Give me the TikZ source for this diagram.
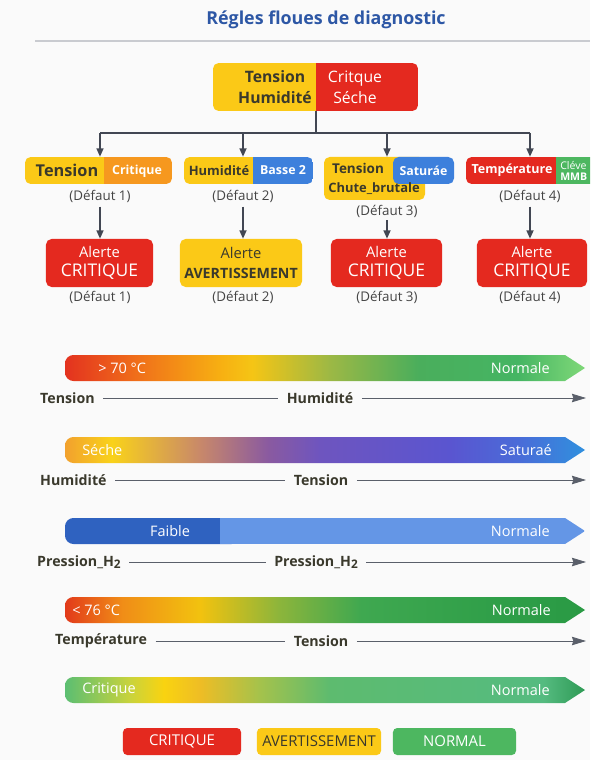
\documentclass[tikz,border=0pt]{standalone}
\usepackage{fontspec}
\setmainfont{Open Sans}
\usetikzlibrary{arrows.meta}

\definecolor{pagebg}{HTML}{FAFAFA}
\definecolor{titleblue}{HTML}{2D57A5}
\definecolor{rulegray}{HTML}{C9CBD0}
\definecolor{critred}{HTML}{E4291F}
\definecolor{warnyel}{HTML}{FBC917}
\definecolor{okgreen}{HTML}{4DB760}
\definecolor{hotorange}{HTML}{F6981F}
\definecolor{skyblue}{HTML}{3D80DC}
\definecolor{inkdark}{HTML}{3A392C}
\definecolor{wiregray}{HTML}{424753}
\definecolor{notegray}{HTML}{444444}
\definecolor{linegray}{HTML}{5A5F6A}
\definecolor{deepblue}{HTML}{2F62C0}
\definecolor{paleblue}{HTML}{6496E6}

% colour stops of the scales
\definecolor{sa0}{HTML}{E3321F}\definecolor{sa1}{HTML}{F0701A}
\definecolor{sa2}{HTML}{F7B012}\definecolor{sa3}{HTML}{F5C515}
\definecolor{sa4}{HTML}{9CB845}\definecolor{sa5}{HTML}{4AAE5C}
\definecolor{sa6}{HTML}{45B563}\definecolor{sa7}{HTML}{7FD878}
\definecolor{sb0}{HTML}{F2A12E}\definecolor{sb1}{HTML}{F9D21A}
\definecolor{sb2}{HTML}{C8886A}\definecolor{sb3}{HTML}{8A5AA0}
\definecolor{sb4}{HTML}{6E55BF}\definecolor{sb5}{HTML}{5A55D0}
\definecolor{sb6}{HTML}{4A6BD8}\definecolor{sb7}{HTML}{3090DE}
\definecolor{sc0}{HTML}{E23A1A}\definecolor{sc1}{HTML}{F08D17}
\definecolor{sc2}{HTML}{F2C20F}\definecolor{sc3}{HTML}{8DB53B}
\definecolor{sc4}{HTML}{3FA850}\definecolor{sc5}{HTML}{2E9E48}
\definecolor{sc6}{HTML}{2A9A44}
\definecolor{sd0}{HTML}{5BBE72}\definecolor{sd1}{HTML}{C9D33C}
\definecolor{sd2}{HTML}{F9D310}\definecolor{sd3}{HTML}{EEBD25}
\definecolor{sd4}{HTML}{A4C24C}\definecolor{sd5}{HTML}{5DBB6F}
\definecolor{sd6}{HTML}{55BB80}\definecolor{sd7}{HTML}{2E9A55}

\pgfdeclarehorizontalshading{tempscale}{100bp}{color(0bp)=(sa0); color(25bp)=(sa0);
  color(32bp)=(sa1); color(40bp)=(sa2); color(43bp)=(sa3); color(50.5bp)=(sa4);
  color(59bp)=(sa5); color(68.5bp)=(sa6); color(75bp)=(sa7); color(100bp)=(sa7)}
\pgfdeclarehorizontalshading{humscale}{100bp}{color(0bp)=(sb0); color(25bp)=(sb0);
  color(29.5bp)=(sb1); color(38bp)=(sb2); color(44.5bp)=(sb3); color(49.5bp)=(sb4);
  color(62bp)=(sb5); color(68.5bp)=(sb6); color(75bp)=(sb7); color(100bp)=(sb7)}
\pgfdeclarehorizontalshading{heatscale}{100bp}{color(0bp)=(sc0); color(25bp)=(sc0);
  color(30.5bp)=(sc1); color(38bp)=(sc2); color(45.5bp)=(sc3); color(53.5bp)=(sc4);
  color(67.5bp)=(sc5); color(75bp)=(sc6); color(100bp)=(sc6)}
\pgfdeclarehorizontalshading{cellscale}{100bp}{color(0bp)=(sd0); color(25bp)=(sd0);
  color(31.25bp)=(sd1); color(34.5bp)=(sd2); color(38bp)=(sd3); color(43.75bp)=(sd4);
  color(50.5bp)=(sd5); color(71bp)=(sd6); color(75bp)=(sd7); color(100bp)=(sd7)}

\tikzset{
  wire/.style={draw=wiregray, line width=1.1pt},
  headed/.style={-{Triangle[length=6pt,width=5pt]}},
  frame/.style={inner sep=0pt, minimum height=0.675cm},
  note/.style={text=notegray, inner sep=0pt, font=\fontsize{9.5}{11}\selectfont},
  darktag/.style={text=inkdark, inner sep=0pt, font=\bfseries\fontsize{9.6}{11}\selectfont},
  lighttag/.style={text=white, inner sep=0pt, font=\bfseries\fontsize{9.3}{11}\selectfont},
  alertbox/.style={rounded corners=4pt, minimum height=1.2cm, align=center,
    text=white, inner sep=0pt, font=\fontsize{10.5}{14}\selectfont},
  barlbl/.style={text=white, inner sep=0pt, font=\fontsize{10.3}{12}\selectfont},
  rowlbl/.style={text=inkdark, inner sep=6pt, font=\bfseries\fontsize{10.1}{12}\selectfont},
  rowline/.style={draw=linegray, line width=0.6pt},
  rowhead/.style={-{Stealth[length=10pt,width=6pt,inset=1pt]}},
  legendbox/.style={rounded corners=3pt, minimum width=2.95cm, minimum height=0.675cm,
    inner sep=0pt, font=\fontsize{10.6}{12}\selectfont},
}

\begin{document}
\begin{tikzpicture}[x=0.025cm, y=-0.025cm]
  \useasboundingbox (0,0) rectangle (590,760);
  \fill[pagebg] (0,0) rectangle (590,760);
  \clip (0,0) rectangle (590,760);

  % title
  \node[text=titleblue, font=\bfseries\fontsize{12.7}{15}\selectfont] (title) at (326,20)
    {Régles floues de diagnostic};
  \draw[rulegray, line width=1.1pt] (35,41) -- (590,41);

  % rule at the top
  \begin{scope}
    \clip[rounded corners=4pt] (213,63) rectangle (418,111);
    \fill[warnyel] (213,63) rectangle (316,111);
    \fill[critred] (316,63) rectangle (418,111);
  \end{scope}
  \node[darktag, align=center, font=\bfseries\fontsize{11.2}{15}\selectfont] (topL) at (275,87)
    {Tension\\Humidité};
  \node[lighttag, align=center, font=\mdseries\fontsize{11.2}{15}\selectfont] (topR) at (355,87)
    {Critque\\Séche};
  \coordinate (foot) at (316,111);
  \coordinate (hub) at (316,133);

  % conditions
  \node[frame, minimum width=3.675cm] (r1) at (98.5,170.5) {};
  \node[frame, minimum width=3.225cm] (r2) at (248.5,170.5) {};
  \node[frame, minimum width=3.25cm] (r3) at (389,170.5) {};
  \node[frame, minimum width=3.1cm] (r4) at (528,170.5) {};
  \begin{scope}
    \clip[rounded corners=4pt] (25,157) rectangle (172,184);
    \fill[warnyel] (25,157) rectangle (104,184);
    \fill[hotorange] (104,157) rectangle (172,184);
  \end{scope}
  \begin{scope}
    \clip[rounded corners=4pt] (184,157) rectangle (313,184);
    \fill[warnyel] (184,157) rectangle (253,184);
    \fill[skyblue] (253,157) rectangle (313,184);
  \end{scope}
  \fill[warnyel, rounded corners=4pt] (324,157) rectangle (425,200);
  \fill[skyblue, rounded corners=4pt] (393,157) rectangle (454,184);
  \begin{scope}
    \clip[rounded corners=4pt] (466,157) rectangle (610,184);
    \fill[critred] (466,157) rectangle (556,184);
    \fill[okgreen] (556,157) rectangle (610,184);
  \end{scope}
  \node[darktag, font=\bfseries\fontsize{11.6}{13}\selectfont] (t1a) at (67,170.5) {Tension};
  \node[lighttag, font=\bfseries\fontsize{8.8}{11}\selectfont] (t1b) at (137,171) {Critique};
  \node[darktag, font=\bfseries\fontsize{9.2}{11}\selectfont] (t2a) at (219,170.5) {Humidité};
  \node[lighttag, font=\bfseries\fontsize{8.8}{11}\selectfont] (t2b) at (283,170.5) {Basse 2};
  \node[darktag] (t3a) at (358,168) {Tension};
  \node[darktag, font=\bfseries\fontsize{9.2}{11}\selectfont] (t3c) at (374,189) {Chute\_brutale};
  \node[lighttag, font=\bfseries\fontsize{8.8}{11}\selectfont] (t3b) at (423.5,170.5) {Saturáe};
  \node[lighttag, font=\bfseries\fontsize{8.9}{11}\selectfont] (t4a) at (512,170.5) {Température};
  \node[lighttag, anchor=west, align=left, font=\fontsize{7.5}{8}\selectfont] (t4b) at (560,171)
    {Cléve\\\textbf{MMB}};

  % alerts
  \node[alertbox, fill=critred, minimum width=2.675cm] (a1) at (99.5,263)
    {Alerte\\{\fontsize{12.4}{14}\selectfont CRITIQUE}};
  \node[alertbox, fill=warnyel, text=inkdark, minimum width=3.05cm] (a2) at (241,263)
    {Alerte\\{\bfseries\fontsize{10.1}{14}\selectfont AVERTISSEMENT}};
  \node[alertbox, fill=critred, minimum width=2.775cm] (a3) at (386.5,263)
    {Alerte\\{\fontsize{12.4}{14}\selectfont CRITIQUE}};
  \node[alertbox, fill=critred, minimum width=2.75cm] (a4) at (532,263)
    {Alerte\\{\fontsize{12.4}{14}\selectfont CRITIQUE}};

  \node[note] (d1) at (100,196) {(Défaut 1)};
  \node[note] (d2) at (243,196) {(Défaut 2)};
  \node[note] (d3) at (387,211) {(Défaut 3)};
  \node[note] (d4) at (530,196) {(Défaut 4)};
  \node[note] (e1) at (100,297) {(Défaut 1)};
  \node[note] (e2) at (243,297) {(Défaut 2)};
  \node[note] (e3) at (387,297) {(Défaut 3)};
  \node[note] (e4) at (530,297) {(Défaut 4)};

  \draw[wire] (foot) -- (hub);
  \draw[wire] (hub -| d1) -- (hub -| d4);
  \draw[wire, headed] (hub -| d1) -- (d1 |- r1.north);
  \draw[wire, headed] (hub -| d2) -- (d2 |- r2.north);
  \draw[wire, headed] (hub -| d3) -- (d3 |- r3.north);
  \draw[wire, headed] (hub -| d4) -- (d4 |- r4.north);
  \draw[wire, headed, shorten <=3pt] (d1) -- (d1 |- a1.north);
  \draw[wire, headed, shorten <=3pt] (d2) -- (d2 |- a2.north);
  \draw[wire, headed, shorten <=2pt] (d3) -- (d3 |- a3.north);
  \draw[wire, headed, shorten <=3pt] (d4) -- (d4 |- a4.north);

  % membership scales
  \foreach \yb/\shd in {355/tempscale, 437/humscale, 597/heatscale, 677/cellscale}{
    \begin{scope}
      \clip (65,\yb) -- (565,\yb) -- (585,{\yb+13}) -- (565,{\yb+26}) -- (65,{\yb+26}) -- cycle;
      \shade[shading=\shd, rounded corners=6pt] (65,\yb) rectangle (585,{\yb+26});
    \end{scope}
  }
  \begin{scope}
    \clip (65,518) -- (565,518) -- (585,531) -- (565,544) -- (65,544) -- cycle;
    \fill[deepblue, rounded corners=6pt] (65,518) rectangle (240,544);
    \fill[paleblue] (220,518) rectangle (585,544);
  \end{scope}

  \node[barlbl, anchor=west] (s1a) at (98,368) {> 70 °C};
  \node[barlbl, anchor=east] (s1b) at (550,368) {Normale};
  \node[barlbl, anchor=west] (s2a) at (82,450) {Séche};
  \node[barlbl, anchor=east] (s2b) at (552,450) {Saturaé};
  \node[barlbl] (s3a) at (170,531) {Faible};
  \node[barlbl, anchor=east] (s3b) at (550,531) {Normale};
  \node[barlbl, anchor=west] (s4a) at (72,610) {< 76 °C};
  \node[barlbl, anchor=east] (s4b) at (551,610) {Normale};
  \node[barlbl, anchor=west] (s5a) at (82,690) {Critique};
  \node[barlbl, anchor=east] (s5b) at (550,690) {Normale};

  % variables under the scales
  \node[rowlbl, anchor=west] (v1a) at (31.5,398) {Tension};
  \node[rowlbl] (v1b) at (320,398) {Humidité};
  \coordinate (v1e) at (586,398);
  \draw[rowline] (v1a) -- (v1b);
  \draw[rowline, rowhead] (v1b) -- (v1e);

  \node[rowlbl, anchor=west] (v2a) at (31.5,480) {Humidité};
  \node[rowlbl] (v2b) at (321,480) {Tension};
  \coordinate (v2e) at (586,480);
  \draw[rowline] (v2a) -- (v2b);
  \draw[rowline, rowhead] (v2b) -- (v2e);

  \node[rowlbl, anchor=west] (v3a) at (28.5,562)
    {Pression\_H\raisebox{-0.35ex}{\fontsize{8.4}{9}\selectfont 2}};
  \node[rowlbl] (v3b) at (316,562)
    {Pression\_H\raisebox{-0.35ex}{\fontsize{8.4}{9}\selectfont 2}};
  \coordinate (v3e) at (586,562);
  \draw[rowline] (v3a) -- (v3b);
  \draw[rowline, rowhead] (v3b) -- (v3e);

  \node[rowlbl, anchor=west] (v4a) at (46.5,641) {Température};
  \node[rowlbl] (v4b) at (321,641) {Tension};
  \coordinate (v4e) at (586,641);
  \draw[rowline] (v4a) -- (v4b);
  \draw[rowline, rowhead] (v4b) -- (v4e);

  % legend
  \node[legendbox, fill=critred, text=white] (k1) at (182,741.5) {CRITIQUE};
  \node[legendbox, fill=warnyel, text=inkdark, minimum width=3.1cm] (k2) at (319,741.5) {AVERTISSEMENT};
  \node[legendbox, fill=okgreen, text=white, minimum width=3.075cm] (k3) at (454.5,741.5) {NORMAL};
\end{tikzpicture}
\end{document}
